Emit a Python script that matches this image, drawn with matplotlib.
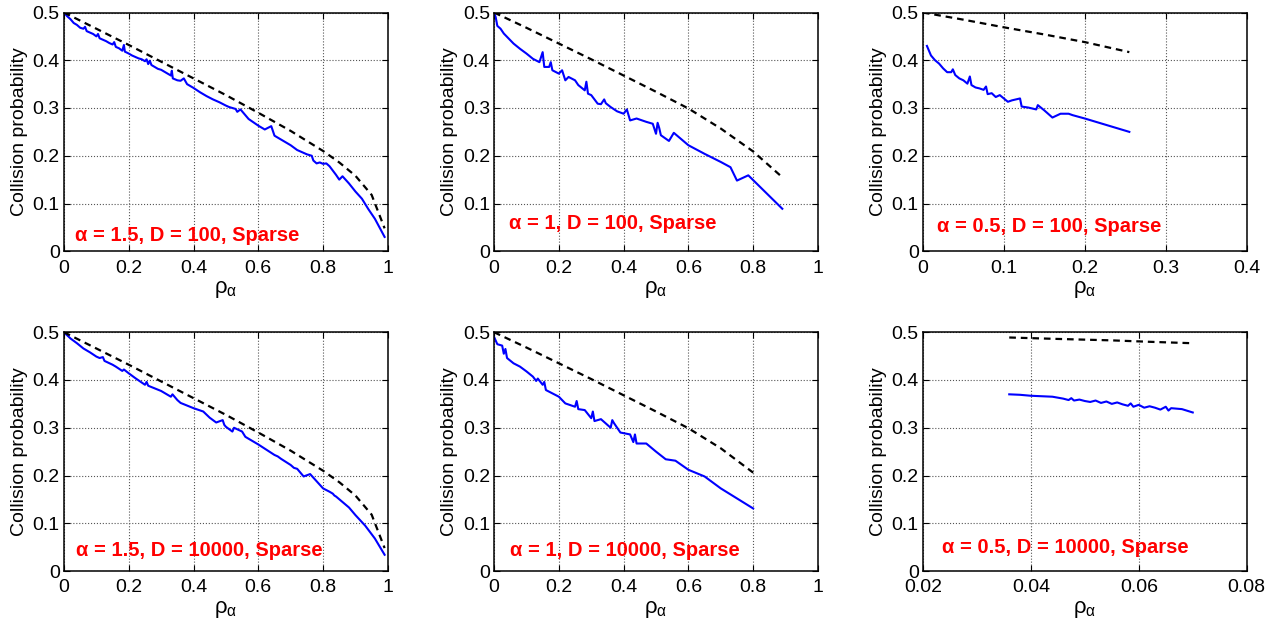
import matplotlib
matplotlib.use('Agg')
import matplotlib.pyplot as plt

plt.rcParams['font.family'] = ['Liberation Sans', 'DejaVu Sans']
plt.rcParams['mathtext.fontset'] = 'custom'
plt.rcParams['mathtext.rm'] = 'Liberation Sans'
plt.rcParams['mathtext.it'] = 'Liberation Sans'

# ---- alpha = 1.5, D = 100
a15_d100_x = [0.000, 0.010, 0.020, 0.030, 0.040, 0.050, 0.060, 0.065, 0.070, 0.080, 0.090, 0.100,
              0.105, 0.110, 0.120, 0.130, 0.140, 0.150, 0.155, 0.160, 0.170, 0.180, 0.185, 0.188,
              0.200, 0.210, 0.220, 0.230, 0.240, 0.250, 0.255, 0.260, 0.265, 0.270, 0.280, 0.290,
              0.300, 0.310, 0.320, 0.330, 0.333, 0.336, 0.350, 0.360, 0.370, 0.380, 0.400, 0.420,
              0.440, 0.460, 0.480, 0.500, 0.510, 0.530, 0.535, 0.545, 0.570, 0.600, 0.620, 0.640,
              0.650, 0.680, 0.700, 0.720, 0.750, 0.765, 0.770, 0.780, 0.790, 0.800, 0.810, 0.820,
              0.840, 0.850, 0.860, 0.880, 0.900, 0.920, 0.940, 0.960, 0.990]
a15_d100_y = [0.500, 0.492, 0.486, 0.478, 0.474, 0.468, 0.466, 0.470, 0.461, 0.458, 0.455, 0.450,
              0.455, 0.446, 0.443, 0.440, 0.436, 0.433, 0.438, 0.428, 0.425, 0.420, 0.432, 0.418,
              0.414, 0.410, 0.407, 0.404, 0.402, 0.398, 0.402, 0.392, 0.399, 0.390, 0.386, 0.382,
              0.380, 0.376, 0.372, 0.368, 0.378, 0.362, 0.358, 0.357, 0.362, 0.350, 0.342, 0.333,
              0.325, 0.318, 0.312, 0.305, 0.302, 0.298, 0.292, 0.297, 0.277, 0.263, 0.255, 0.262,
              0.242, 0.230, 0.222, 0.212, 0.203, 0.200, 0.190, 0.184, 0.186, 0.183, 0.184, 0.178,
              0.160, 0.150, 0.157, 0.142, 0.125, 0.110, 0.088, 0.068, 0.030]

# ---- alpha = 1, D = 100
a1_d100_x = [0.000, 0.005, 0.010, 0.020, 0.030, 0.040, 0.050, 0.060, 0.080, 0.100, 0.120, 0.140,
             0.150, 0.155, 0.170, 0.175, 0.180, 0.200, 0.210, 0.220, 0.230, 0.250, 0.260, 0.280,
             0.285, 0.290, 0.300, 0.320, 0.330, 0.340, 0.345, 0.360, 0.380, 0.400, 0.410, 0.420,
             0.440, 0.470, 0.490, 0.500, 0.505, 0.510, 0.515, 0.540, 0.555, 0.600, 0.650, 0.700,
             0.730, 0.750, 0.785, 0.890]
a1_d100_y = [0.500, 0.490, 0.472, 0.466, 0.456, 0.449, 0.442, 0.435, 0.424, 0.414, 0.403, 0.396,
             0.417, 0.386, 0.386, 0.396, 0.379, 0.372, 0.379, 0.358, 0.365, 0.358, 0.348, 0.337,
             0.355, 0.330, 0.327, 0.309, 0.308, 0.318, 0.310, 0.302, 0.293, 0.288, 0.297, 0.274,
             0.278, 0.271, 0.267, 0.246, 0.269, 0.258, 0.243, 0.231, 0.248, 0.222, 0.204, 0.187,
             0.176, 0.148, 0.159, 0.089]

# ---- alpha = 0.5, D = 100
a05_d100_x = [0.005, 0.010, 0.015, 0.020, 0.025, 0.030, 0.035, 0.037, 0.040, 0.045, 0.050, 0.055,
              0.058, 0.060, 0.065, 0.070, 0.075, 0.078, 0.080, 0.085, 0.090, 0.095, 0.100, 0.105,
              0.110, 0.120, 0.122, 0.130, 0.140, 0.142, 0.150, 0.160, 0.170, 0.180, 0.185, 0.200,
              0.255]
a05_d100_y = [0.430, 0.410, 0.400, 0.393, 0.383, 0.375, 0.375, 0.381, 0.369, 0.362, 0.358, 0.351,
              0.366, 0.348, 0.343, 0.341, 0.338, 0.345, 0.329, 0.331, 0.323, 0.327, 0.320, 0.313,
              0.316, 0.320, 0.303, 0.301, 0.297, 0.306, 0.295, 0.280, 0.288, 0.288, 0.285, 0.278,
              0.250]

# ---- alpha = 1.5, D = 10000
a15_d10k_x = [0.000, 0.020, 0.040, 0.060, 0.080, 0.100, 0.110, 0.120, 0.125, 0.150, 0.160, 0.180,
              0.185, 0.200, 0.220, 0.250, 0.255, 0.260, 0.300, 0.330, 0.335, 0.350, 0.360, 0.400,
              0.430, 0.450, 0.470, 0.490, 0.495, 0.500, 0.520, 0.525, 0.550, 0.560, 0.600, 0.650,
              0.660, 0.670, 0.700, 0.710, 0.720, 0.740, 0.760, 0.800, 0.820, 0.830, 0.835, 0.840,
              0.880, 0.900, 0.930, 0.960, 0.990]
a15_d10k_y = [0.500, 0.487, 0.477, 0.466, 0.458, 0.449, 0.446, 0.448, 0.440, 0.432, 0.428, 0.419,
              0.422, 0.414, 0.404, 0.390, 0.396, 0.388, 0.377, 0.365, 0.370, 0.358, 0.352, 0.341,
              0.334, 0.321, 0.311, 0.316, 0.306, 0.302, 0.292, 0.300, 0.292, 0.281, 0.265, 0.243,
              0.240, 0.235, 0.222, 0.216, 0.214, 0.198, 0.203, 0.173, 0.166, 0.162, 0.158, 0.156,
              0.133, 0.117, 0.095, 0.068, 0.034]

# ---- alpha = 1, D = 10000
a1_d10k_x = [0.000, 0.010, 0.025, 0.030, 0.035, 0.040, 0.060, 0.080, 0.100, 0.120, 0.130, 0.135,
             0.150, 0.155, 0.160, 0.180, 0.200, 0.220, 0.250, 0.255, 0.260, 0.280, 0.300, 0.305,
             0.310, 0.330, 0.350, 0.360, 0.365, 0.370, 0.390, 0.420, 0.430, 0.435, 0.440, 0.470,
             0.500, 0.530, 0.560, 0.600, 0.650, 0.700, 0.800]
a1_d10k_y = [0.490, 0.475, 0.472, 0.455, 0.465, 0.446, 0.435, 0.428, 0.418, 0.407, 0.398, 0.403,
             0.390, 0.396, 0.379, 0.372, 0.365, 0.351, 0.344, 0.356, 0.339, 0.337, 0.320, 0.334,
             0.314, 0.318, 0.306, 0.300, 0.316, 0.310, 0.290, 0.286, 0.270, 0.286, 0.267, 0.267,
             0.250, 0.234, 0.231, 0.212, 0.198, 0.173, 0.131]

# ---- alpha = 0.5, D = 10000
a05_d10k_x = [0.036, 0.038, 0.040, 0.042, 0.044, 0.045, 0.046, 0.047, 0.0475, 0.048, 0.049, 0.050,
              0.051, 0.052, 0.053, 0.054, 0.055, 0.056, 0.057, 0.058, 0.0585, 0.059, 0.060, 0.061,
              0.062, 0.063, 0.064, 0.065, 0.0655, 0.066, 0.068, 0.070]
a05_d10k_y = [0.370, 0.369, 0.367, 0.366, 0.365, 0.363, 0.361, 0.358, 0.362, 0.357, 0.359, 0.356,
              0.354, 0.357, 0.352, 0.355, 0.350, 0.353, 0.349, 0.346, 0.351, 0.344, 0.348, 0.342,
              0.345, 0.342, 0.338, 0.344, 0.336, 0.341, 0.339, 0.332]

# ---- theoretical (dashed) curves
theo15_x = [0.0, 0.1, 0.2, 0.3, 0.4, 0.5, 0.6, 0.7, 0.8, 0.85, 0.9, 0.95, 0.99]
theo15_y = [0.5, 0.466, 0.432, 0.397, 0.362, 0.327, 0.290, 0.252, 0.210, 0.186, 0.158, 0.118, 0.048]
theo1_d100_x = [0.0, 0.1, 0.2, 0.3, 0.4, 0.5, 0.6, 0.7, 0.8, 0.89]
theo1_d100_y = [0.5, 0.468, 0.435, 0.402, 0.368, 0.334, 0.299, 0.257, 0.209, 0.155]
theo1_d10k_x = [0.0, 0.1, 0.2, 0.3, 0.4, 0.5, 0.6, 0.7, 0.8]
theo1_d10k_y = [0.5, 0.468, 0.435, 0.402, 0.368, 0.334, 0.299, 0.257, 0.206]
theo05_d100_x = [0.0, 0.05, 0.1, 0.15, 0.2, 0.255]
theo05_d100_y = [0.5, 0.485, 0.469, 0.454, 0.438, 0.417]
theo05_d10k_x = [0.036, 0.045, 0.055, 0.062, 0.070]
theo05_d10k_y = [0.489, 0.486, 0.483, 0.480, 0.477]

labels = ['\u03b1 = 1.5, D = 100, Sparse', '\u03b1 = 1, D = 100, Sparse', '\u03b1 = 0.5, D = 100, Sparse',
          '\u03b1 = 1.5, D = 10000, Sparse', '\u03b1 = 1, D = 10000, Sparse', '\u03b1 = 0.5, D = 10000, Sparse']
xticks_01 = [0, 0.2, 0.4, 0.6, 0.8, 1]
xticks_04 = [0, 0.1, 0.2, 0.3, 0.4]
xticks_008 = [0.02, 0.04, 0.06, 0.08]
yticks = [0, 0.1, 0.2, 0.3, 0.4, 0.5]

panels = [
    (a15_d100_x, a15_d100_y, theo15_x, theo15_y, xticks_01, (0.034, 0.067)),
    (a1_d100_x, a1_d100_y, theo1_d100_x, theo1_d100_y, xticks_01, (0.046, 0.117)),
    (a05_d100_x, a05_d100_y, theo05_d100_x, theo05_d100_y, xticks_04, (0.043, 0.105)),
    (a15_d10k_x, a15_d10k_y, theo15_x, theo15_y, xticks_01, (0.037, 0.084)),
    (a1_d10k_x, a1_d10k_y, theo1_d10k_x, theo1_d10k_y, xticks_01, (0.05, 0.084)),
    (a05_d10k_x, a05_d10k_y, theo05_d10k_x, theo05_d10k_y, xticks_008, (0.059, 0.10)),
]

fig = plt.figure(figsize=(12.8, 6.25), dpi=100)
lefts = [0.050, 0.386, 0.721]
bottoms = [0.598, 0.0864]

for i, (bx, by, tx, ty, xt, tpos) in enumerate(panels):
    ax = fig.add_axes([lefts[i % 3], bottoms[i // 3], 0.253, 0.382])
    ax.plot(bx, by, color='#0000ff', lw=1.5)
    ax.plot(tx, ty, color='black', lw=1.6, ls=(0, (3, 2.2)))
    ax.set_xlim(xt[0], xt[-1])
    ax.set_ylim(0, 0.5)
    ax.set_xticks(xt)
    ax.set_xticklabels(['%g' % v for v in xt])
    ax.set_yticks(yticks)
    ax.set_yticklabels(['%g' % v for v in yticks])
    ax.grid(True, ls=':', color='#555555', lw=0.8)
    for sp in ax.spines.values():
        sp.set_linewidth(1.1)
    ax.tick_params(direction='in', top=True, right=True, labelsize=14, length=4)
    ax.tick_params(axis='x', pad=6)
    ax.tick_params(axis='y', pad=3)
    ax.set_ylabel('Collision probability', fontsize=14, labelpad=3)
    ax.set_xlabel(r'$\rho_\alpha$', fontsize=16, labelpad=2)
    ax.text(tpos[0], tpos[1], labels[i], transform=ax.transAxes, color='#ff0000',
            fontsize=14.5, fontweight='bold', ha='left', va='center')

plt.savefig('out.png', dpi=100)
plt.close()
